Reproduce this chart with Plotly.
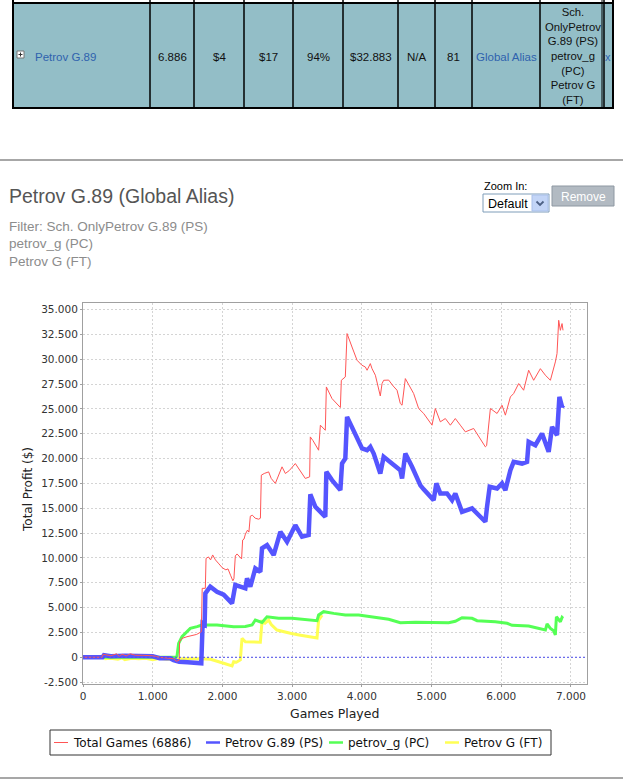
import plotly.graph_objects as go

# ---------------- data ----------------
total_x = [0, 270, 290, 350, 400, 480, 520, 560, 620, 680, 750, 850, 1000, 1100, 1200, 1300, 1340, 1380,
           1386, 1420, 1492, 1560, 1630, 1697, 1710, 1755, 1765, 1800, 1830, 1860, 1900, 1950, 2000, 2050,
           2080, 2120, 2150, 2165, 2185, 2210, 2250, 2275, 2290, 2310, 2330, 2360, 2380, 2400, 2430, 2470,
           2520, 2545, 2558, 2600, 2663, 2700, 2759, 2800, 2855, 2903, 2960, 3046, 3100, 3189, 3251, 3261,
           3300, 3380, 3405, 3476, 3491, 3572, 3692, 3706, 3763, 3788, 3859, 3931, 4000, 4050, 4075, 4122,
           4146, 4194, 4265, 4290, 4313, 4385, 4450, 4505, 4552, 4577, 4624, 4720, 4743, 4815, 4887, 5007,
           5054, 5126, 5198, 5270, 5341, 5413, 5485, 5604, 5676, 5772, 5790, 5844, 5940, 6011, 6059, 6131,
           6178, 6250, 6321, 6393, 6465, 6561, 6633, 6705, 6776, 6800, 6824, 6848, 6872, 6886]
total_y = [0, 0, 300, 200, 150, 350, 100, 300, 150, 350, 200, 200, 150, 0, -100, -150, -400, -300,
           1570, 1900, 2070, 2200, 2300, 2570, 6940, 6940, 9950, 10100, 9800, 10300, 9800, 9400, 9000, 8800,
           8900, 8200, 7700, 7900, 10200, 10400, 10100, 9900, 11800, 11900, 12400, 12800, 12600, 14200, 14300, 14000,
           13900, 14000, 18330, 18500, 18660, 18000, 17500, 18200, 19170, 18500, 18800, 19500, 18900, 18000, 18160, 22180,
           21800, 20840, 23360, 22850, 27210, 26040, 25140, 27880, 28220, 32580, 31230, 29900, 29400, 29220, 28890, 29560,
           29050, 28390, 26300, 27550, 27880, 27900, 27300, 26880, 25540, 25370, 28050, 26710, 26550, 25040, 24540, 23360,
           25040, 23700, 24030, 23360, 24030, 23360, 22690, 23030, 22180, 21180, 21300, 25040, 24540, 25370, 24370, 26210,
           26550, 27550, 26880, 28890, 27880, 29050, 28390, 27880, 29730, 30570, 33920, 32910, 33590, 32910]

ps_x = [0, 280, 300, 400, 600, 900, 1000, 1100, 1250, 1300, 1380, 1500, 1697, 1716, 1745, 1755, 1826, 1922,
        2018, 2138, 2185, 2257, 2329, 2353, 2400, 2472, 2544, 2568, 2640, 2735, 2831, 2927, 3046, 3142,
        3237, 3261, 3333, 3476, 3491, 3572, 3692, 3716, 3763, 3788, 3859, 3931, 4003, 4075, 4122, 4170,
        4265, 4313, 4433, 4552, 4577, 4624, 4720, 4840, 4887, 4983, 5030, 5069, 5126, 5222, 5294, 5341,
        5437, 5581, 5653, 5772, 5796, 5834, 5940, 6011, 6059, 6131, 6178, 6298, 6370, 6393, 6489, 6585,
        6680, 6729, 6800, 6815, 6834, 6872, 6886]
ps_y = [0, 0, 200, 100, 150, 100, 100, -100, -100, -300, -450, -500, -600, 3420, 3300, 6440, 7100, 6600,
        6300, 5430, 7270, 7100, 6940, 7950, 7100, 8950, 8600, 10960, 11290, 10290, 12630, 11620, 13300, 12130,
        12300, 16400, 15150, 14140, 18660, 17830, 16820, 19500, 20010, 24200, 23190, 22020, 21020, 20840, 21180, 20510,
        18500, 20180, 19500, 18830, 18000, 20510, 19170, 17300, 16900, 16150, 15820, 17500, 16490, 16490, 15820, 16490,
        14640, 14980, 14480, 13640, 15150, 17160, 16990, 17500, 16820, 18830, 19670, 19500, 19670, 21690, 21350, 22520,
        20680, 23190, 22350, 24540, 26210, 25200, 25400]

pc_x = [0, 1330, 1349, 1372, 1420, 1480, 1539, 1636, 1707, 1922, 2161, 2329, 2425, 2472, 2568, 2640, 2807,
        2999, 3142, 3357, 3380, 3452, 3596, 3763, 3954, 4146, 4385, 4552, 4770, 5245, 5341, 5437, 5581,
        5653, 5915, 6083, 6155, 6393, 6537, 6633, 6657, 6705, 6752, 6776, 6791, 6824, 6848, 6872, 6886]
pc_y = [0, 0, 130, 1400, 2070, 2500, 2910, 3080, 3250, 3250, 3080, 3100, 3250, 3750, 3500, 4080, 3920,
        3920, 3820, 3680, 4250, 4590, 4420, 4250, 4250, 4080, 3820, 3480, 3520, 3480, 3620, 3980, 3920,
        3680, 3580, 3420, 3220, 3150, 2910, 2740, 3350, 2910, 2680, 2240, 4080, 3750, 3580, 4020, 3920]

ft_x = [0, 300, 320, 400, 500, 560, 600, 700, 800, 900, 1000, 1100, 1200, 1300, 1400, 1700, 1830, 2018,
        2138, 2161, 2200, 2257, 2281, 2329, 2425, 2544, 2568, 2610, 2663, 2700, 2783, 2900, 2974, 3100,
        3250, 3357, 3380, 3405, 3430]
ft_y = [0, 0, -150, -100, -200, -50, -250, -100, -150, -100, -250, -100, -200, -150, -150, -150, -200, -600,
        -870, -440, -500, -270, 1910, 1570, 1570, 1510, 3580, 3420, 3750, 3300, 2740, 2500, 2410, 2250,
        2100, 1950, 3750, 3950, 4250]

x_tickvals = [0, 1000, 2000, 3000, 4000, 5000, 6000, 7000]
x_ticktext = ["0", "1.000", "2.000", "3.000", "4.000", "5.000", "6.000", "7.000"]
y_tickvals = [-2500, 0, 2500, 5000, 7500, 10000, 12500, 15000, 17500, 20000, 22500, 25000, 27500, 30000, 32500, 35000]
y_ticktext = ["-2.500", "0", "2.500", "5.000", "7.500", "10.000", "12.500", "15.000", "17.500", "20.000",
              "22.500", "25.000", "27.500", "30.000", "32.500", "35.000"]

series_names = ["Total Games (6886)", "Petrov G.89 (PS)", "petrov_g (PC)", "Petrov G (FT)"]
table_name = "Petrov G.89"
table_values = ["6.886", "$4", "$17", "94%", "$32.883", "N/A", "81"]
table_link = "Global Alias"
table_filter = "Sch.<br>OnlyPetrov<br>G.89 (PS)<br>petrov_g<br>(PC)<br>Petrov G<br>(FT)"
page_title = "Petrov G.89 (Global Alias)"
filter_lines = ["Filter: Sch. OnlyPetrov G.89 (PS)", "petrov_g (PC)", "Petrov G (FT)"]

# ---------------- layout helpers ----------------
W, H = 631, 783
PL, PR, PT, PB = 83, 587, 303, 684


def fx(px):
    return (px - PL) / (PR - PL)


def fy(py):
    return (PB - py) / (PB - PT)


shapes = []
annotations = []


def rect(x0, y0, x1, y1, fill=None, line="#000", lw=1, layer="above"):
    shapes.append(dict(type="rect", xref="paper", yref="paper", x0=fx(x0), x1=fx(x1), y0=fy(y1), y1=fy(y0),
                       fillcolor=fill if fill else "rgba(0,0,0,0)", line=dict(color=line, width=lw), layer=layer))


def hline(x0, x1, y, color="#000", lw=1, dash="solid"):
    shapes.append(dict(type="line", xref="paper", yref="paper", x0=fx(x0), x1=fx(x1), y0=fy(y), y1=fy(y),
                       line=dict(color=color, width=lw, dash=dash)))


def vline(x, y0, y1, color="#000", lw=1):
    shapes.append(dict(type="line", xref="paper", yref="paper", x0=fx(x), x1=fx(x), y0=fy(y0), y1=fy(y1),
                       line=dict(color=color, width=lw)))


def text(px, py, s, size=12, color="#000", xanchor="left", yanchor="middle", family="Liberation Sans",
         angle=0, align="left"):
    annotations.append(dict(x=fx(px), y=fy(py), xref="paper", yref="paper", text=s, showarrow=False,
                            xanchor=xanchor, yanchor=yanchor, textangle=angle, align=align,
                            font=dict(family=family, size=size, color=color), borderpad=0))


# ---------------- table row ----------------
LINK = "#2F62AE"
cols = [13, 150, 194, 244, 293, 343, 398, 435, 472, 540, 604, 613]
rect(13, 3, 613, 108, fill="#93BEC7", line="#000", lw=2, layer="below")
for c in cols[1:-1]:
    vline(c, 0, 108, lw=1.5)
vline(13, 0, 108, lw=2)
vline(613, 0, 108, lw=2)
vline(602, 0, 108, lw=1)
# expand icon
rect(17, 51, 24, 58, fill="#ffffff", line="#777", lw=1)
hline(18.5, 22.5, 54.5, color="#333", lw=1)
vline(20.5, 52.5, 56.5, color="#333", lw=1)
text(34, 57, table_name, size=11.5, color=LINK)
for i, v in enumerate(table_values):
    text((cols[i + 1] + cols[i + 2]) / 2, 57, v, size=11.5, color="#111", xanchor="center")
text((cols[8] + cols[9]) / 2, 57, table_link, size=11.5, color=LINK, xanchor="center")
text((cols[9] + cols[10]) / 2 + 1, 56, table_filter, size=11.3, color="#111", xanchor="center", align="center")
text(608, 57, "x", size=11, color=LINK, xanchor="center")

# separators
hline(0, 623, 160, color="#8a8a8a", lw=1.5)
hline(0, 623, 778, color="#8a8a8a", lw=1.5)

# header texts
text(8, 196, page_title, size=19.5, color="#555555")
for i, s in enumerate(filter_lines):
    text(8, 226 + i * 17.5, s, size=13.5, color="#8c8c8c")

# zoom dropdown + remove button
text(483, 186, "Zoom In:", size=11, color="#000")
rect(483, 194, 549, 212, fill="#ffffff", line="#7F9DB9", lw=1)
rect(532, 195, 548, 211, fill="#C3D5F7", line="#A9C0EA", lw=1)
shapes.append(dict(type="path", xref="paper", yref="paper",
                   path="M {} {} L {} {} L {} {}".format(fx(536.5), fy(201.5), fx(540), fy(205), fx(543.5), fy(201.5)),
                   line=dict(color="#4D6185", width=1.8)))
text(487, 203.5, "Default", size=12.5, color="#000")
rect(552, 186, 614, 206, fill="#B2BAC2", line="#8E98A2", lw=1)
text(583, 196.5, "Remove", size=12, color="#ffffff", xanchor="center")

# chart axis titles
text(334, 713, "Games Played", size=12.5, color="#222", xanchor="center", family="DejaVu Sans")
text(28, 490, "Total Profit ($)", size=12, color="#222", xanchor="center", family="DejaVu Sans", angle=-90)

# zero marker
shapes.append(dict(type="line", xref="paper", yref="y", x0=0, x1=1, y0=0, y1=0,
                   line=dict(color="#5050F0", width=1, dash="2px,2px")))

# legend (custom)
colors = ["#FF5555", "#5555FF", "#55FF55", "#FFFF55"]
widths = [1, 4.5, 3, 3]
rect(50, 730, 551, 755, fill="#ffffff", line="#333333", lw=1)
leg_x = [54, 206, 329, 445]
for i, name in enumerate(series_names):
    hline(leg_x[i], leg_x[i] + 14, 742.5, color=colors[i], lw=1 if i == 0 else 2.5)
    text(leg_x[i] + 18, 742.5, name, size=12, color="#111", family="DejaVu Sans")

# ---------------- figure ----------------
fig = go.Figure()
fig.add_trace(go.Scatter(x=ft_x, y=ft_y, mode="lines", name=series_names[3],
                         line=dict(color=colors[3], width=widths[3]), showlegend=False))
fig.add_trace(go.Scatter(x=pc_x, y=pc_y, mode="lines", name=series_names[2],
                         line=dict(color=colors[2], width=widths[2]), showlegend=False))
fig.add_trace(go.Scatter(x=ps_x, y=ps_y, mode="lines", name=series_names[1],
                         line=dict(color=colors[1], width=widths[1]), showlegend=False))
fig.add_trace(go.Scatter(x=total_x, y=total_y, mode="lines", name=series_names[0],
                         line=dict(color=colors[0], width=widths[0]), showlegend=False))

axis_common = dict(showgrid=True, gridcolor="#d4d4d4", griddash="2px,2px", gridwidth=1,
                   showline=True, linecolor="#a0a0a0", linewidth=1, mirror=True,
                   ticks="outside", ticklen=2, tickcolor="#a0a0a0", zeroline=False,
                   tickfont=dict(family="DejaVu Sans", size=10.5, color="#333"))

fig.update_layout(
    width=W, height=H,
    margin=dict(l=PL, r=W - PR, t=PT, b=H - PB, pad=0),
    paper_bgcolor="#ffffff", plot_bgcolor="#ffffff",
    xaxis=dict(range=[0, 7230], tickvals=x_tickvals, ticktext=x_ticktext, **axis_common),
    yaxis=dict(range=[-2690, 35660], tickvals=y_tickvals, ticktext=y_ticktext, **axis_common),
    shapes=shapes, annotations=annotations, showlegend=False,
)

fig.write_html("out.html")
